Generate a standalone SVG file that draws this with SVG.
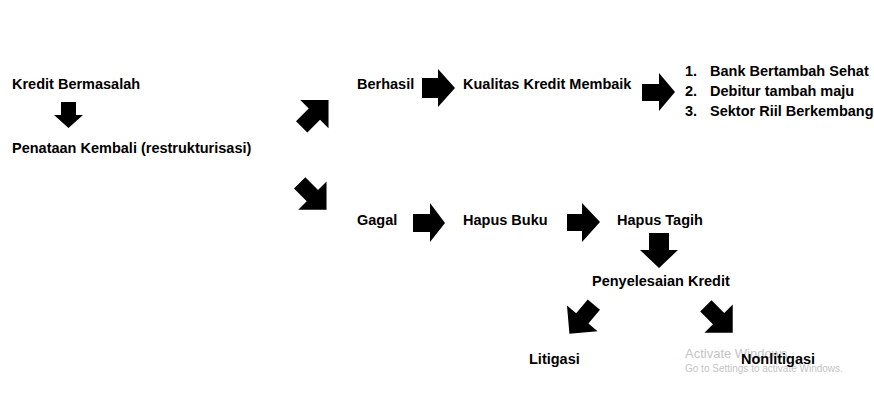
<svg xmlns="http://www.w3.org/2000/svg" width="874" height="405" viewBox="0 0 874 405">
<style>
  .t { font-family: "Liberation Sans", Arial, sans-serif; font-weight: bold; font-size: 14.5px; fill: #000; }
  .wm { font-family: "Liberation Sans", Arial, sans-serif; fill: #c4c4c4; }
  .arr { fill: #000; }
</style>
<defs>
  <path id="ra" d="M-20,-8 L-2,-8 L-2,-20 L18,0 L-2,20 L-2,8 L-20,8 Z"/>
</defs>
<rect width="874" height="405" fill="#fff"/>

<g id="n-kredit"><text class="t" x="12" y="89">Kredit Bermasalah</text></g>
<g id="n-penataan"><text class="t" x="12" y="153">Penataan Kembali (restrukturisasi)</text></g>
<g id="n-berhasil"><text class="t" x="357" y="89">Berhasil</text></g>
<g id="n-kualitas"><text class="t" x="463" y="89">Kualitas Kredit Membaik</text></g>
<g id="n-list">
  <text class="t" x="685" y="76">1.</text><text class="t" x="710" y="76">Bank Bertambah Sehat</text>
  <text class="t" x="685" y="96">2.</text><text class="t" x="710" y="96">Debitur tambah maju</text>
  <text class="t" x="685" y="116">3.</text><text class="t" x="710" y="116">Sektor Riil Berkembang</text>
</g>
<g id="n-gagal"><text class="t" x="357" y="225">Gagal</text></g>
<g id="n-hapusbuku"><text class="t" x="463" y="225">Hapus Buku</text></g>
<g id="n-hapustagih"><text class="t" x="617" y="225">Hapus Tagih</text></g>
<g id="n-penyelesaian"><text class="t" x="592" y="286">Penyelesaian Kredit</text></g>
<g id="n-litigasi"><text class="t" x="529" y="364">Litigasi</text></g>

<g id="watermark">
  <text class="wm" x="685" y="358" font-size="13">Activate Windows</text>
  <text class="wm" x="685" y="372" font-size="10">Go to Settings to activate Windows.</text>
</g>

<g id="n-nonlitigasi"><text class="t" x="741" y="364">Nonlitigasi</text></g>

<g id="connectors" class="arr">
  <!-- Kredit -> Penataan (down) -->
  <path d="M61,102 L76,102 L76,115 L83,115 L68.5,128 L54,115 L61,115 Z"/>
  <!-- Penataan -> Berhasil (up-right) -->
  <use href="#ra" transform="translate(315.8,112.7) rotate(-45)"/>
  <!-- Penataan -> Gagal (down-right) -->
  <use href="#ra" transform="translate(313.8,197) rotate(45)"/>
  <!-- Berhasil -> Kualitas -->
  <path d="M422,78 L438,78 L438,69 L455,88 L438,107 L438,98 L422,98 Z"/>
  <!-- Kualitas -> list -->
  <path d="M642,84 L659,84 L659,73 L675,92 L659,111 L659,101 L642,101 Z"/>
  <!-- Gagal -> Hapus Buku -->
  <path d="M413,214 L430,214 L430,203 L445,223 L430,242 L430,232 L413,232 Z"/>
  <!-- Hapus Buku -> Hapus Tagih -->
  <path d="M567,214 L582,214 L582,203 L600,222 L582,242 L582,231 L567,231 Z"/>
  <!-- Hapus Tagih -> Penyelesaian (down) -->
  <path d="M649,233 L669,233 L669,250 L678,250 L659,268 L640,250 L649,250 Z"/>
  <!-- Penyelesaian -> Litigasi (down-left) -->
  <use href="#ra" transform="translate(581,320) rotate(130)"/>
  <!-- Penyelesaian -> Nonlitigasi (down-right) -->
  <use href="#ra" transform="translate(720,320) rotate(45)"/>
</g>
</svg>
